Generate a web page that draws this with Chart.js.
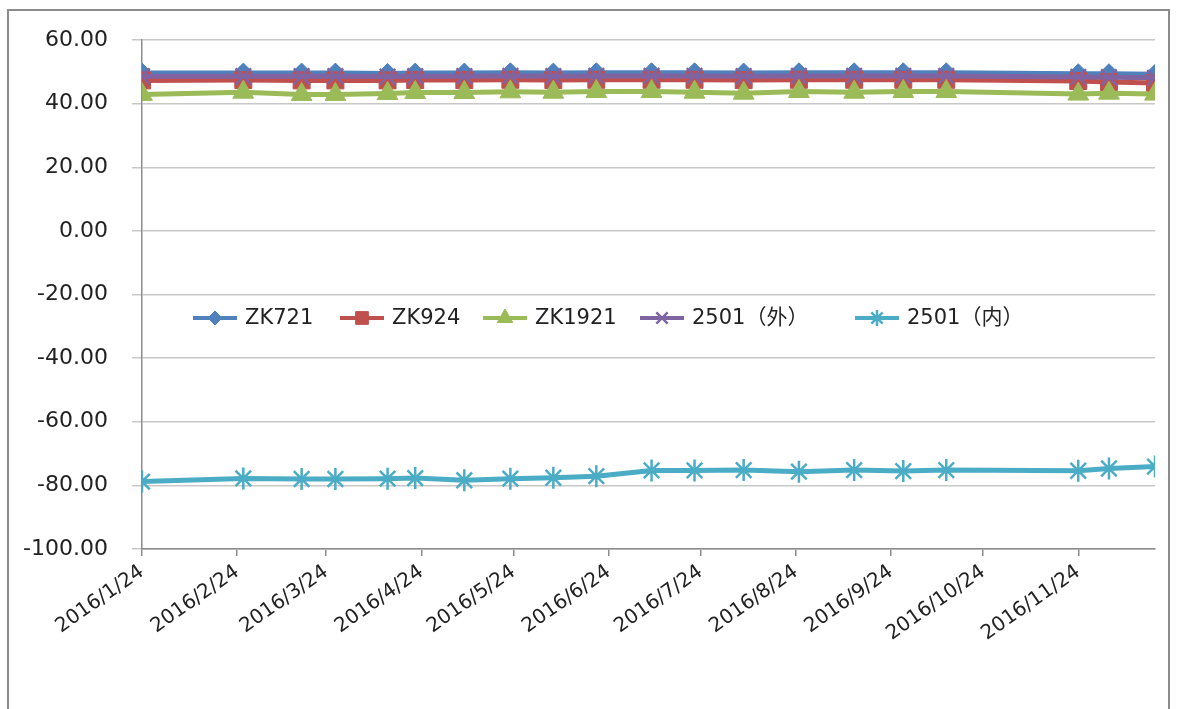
<!DOCTYPE html>
<html>
<head>
<meta charset="utf-8">
<script src="https://cdn.jsdelivr.net/npm/chart.js@4/dist/chart.umd.min.js"></script>
<style>
  html, body { margin: 0; padding: 0; background: #fff; overflow: hidden; }
  #wrap { position: relative; width: 1184px; height: 709px; }
  #frame { position: absolute; left: 7px; top: 9px; width: 1163px; height: 760px; border: 2px solid #8c8c8c; box-sizing: border-box; }
  canvas { position: absolute; left: 0; top: 0; }
</style>
</head>
<body>
<div id="wrap">
  <div id="frame"></div>
  <canvas id="c" width="1184" height="709"></canvas>
</div>
<script>
// ---- data ----
const dates = ['2016-01-24','2016-02-26','2016-03-16','2016-03-27','2016-04-13','2016-04-22','2016-05-08','2016-05-23','2016-06-06','2016-06-20',
               '2016-07-08','2016-07-22','2016-08-07','2016-08-25','2016-09-12','2016-09-28','2016-10-12','2016-11-24','2016-12-04','2016-12-19'];
const zk721   = [49.6,49.6,49.6,49.6,49.5,49.6,49.6,49.7,49.6,49.7,49.7,49.7,49.6,49.7,49.7,49.7,49.7,49.4,49.4,49.2];
const zk924   = [47.3,47.4,47.3,47.3,47.3,47.4,47.4,47.5,47.4,47.5,47.5,47.5,47.4,47.5,47.5,47.5,47.5,47.1,46.8,46.5];
const zk1921  = [42.9,43.6,42.9,42.9,43.2,43.5,43.5,43.7,43.6,43.8,43.8,43.6,43.3,43.8,43.6,43.8,43.8,43.0,43.3,43.0];
const w2501out = [48.6,48.6,48.6,48.6,48.5,48.6,48.6,48.7,48.6,48.7,48.7,48.7,48.6,48.7,48.7,48.7,48.7,48.4,48.3,48.1];
const w2501in  = [-78.8,-77.8,-78.0,-78.0,-77.9,-77.7,-78.4,-77.9,-77.6,-77.1,-75.3,-75.3,-75.2,-75.7,-75.2,-75.5,-75.2,-75.4,-74.7,-74.1];
const seriesNames = ['ZK721','ZK924','ZK1921','2501（外）','2501（内）'];
const xTickDates = ['2016-01-24','2016-02-24','2016-03-24','2016-04-24','2016-05-24','2016-06-24','2016-07-24','2016-08-24','2016-09-24','2016-10-24','2016-11-24'];
const yMin = -100, yMax = 60, yStep = 20;

// ---- helpers ----
const DAY = 86400000;
function toDay(s) { const p = s.split('-').map(Number); return Date.UTC(p[0], p[1]-1, p[2]) / DAY; }
function fmtDay(d) { const dt = new Date(d * DAY); return dt.getUTCFullYear() + '/' + (dt.getUTCMonth()+1) + '/' + dt.getUTCDate(); }
const xs = dates.map(toDay);
const pts = arr => arr.map((v, i) => ({ x: xs[i], y: v }));

const FONT = '"DejaVu Sans", "Noto Sans CJK SC", sans-serif';
const colors = ['#4F81BD', '#C0504D', '#9BBB59', '#8064A2', '#4BACC6'];
const styles = ['rectRot', 'rect', 'triangle', 'crossRot', 'star'];
const radii = [10, 12, 12, 11, 11];
const values = [zk721, zk924, zk1921, w2501out, w2501in];

const datasets = values.map((arr, i) => ({
  label: seriesNames[i],
  data: pts(arr),
  borderColor: colors[i],
  backgroundColor: colors[i],
  borderWidth: 5,
  pointStyle: styles[i],
  pointRadius: radii[i],
  pointBorderWidth: (styles[i] === 'crossRot' || styles[i] === 'star') ? 2.5 : 1,
  pointBorderColor: colors[i],
  pointBackgroundColor: colors[i],
  tension: 0,
  order: 5 - i
}));

const legendPlugin = {
  id: 'insideLegend',
  afterDraw(chart, args, opts) {
    const ctx = chart.ctx;
    const y = opts.y;
    ctx.save();
    ctx.font = opts.fontSize + 'px ' + FONT;
    ctx.textBaseline = 'middle';
    ctx.textAlign = 'left';
    chart.data.datasets.forEach((ds, i) => {
      const x0 = opts.xs[i];
      ctx.strokeStyle = ds.borderColor;
      ctx.lineWidth = 4;
      ctx.beginPath(); ctx.moveTo(x0, y); ctx.lineTo(x0 + 44, y); ctx.stroke();
      ctx.fillStyle = ds.backgroundColor;
      ctx.strokeStyle = ds.borderColor;
      ctx.lineWidth = ds.pointBorderWidth;
      if (Chart.helpers && Chart.helpers.drawPoint) {
        Chart.helpers.drawPoint(ctx, { pointStyle: ds.pointStyle, radius: Math.max(6, ds.pointRadius - 3), rotation: 0, borderWidth: ds.pointBorderWidth }, x0 + 22, y);
      }
      ctx.fillStyle = '#222';
      ctx.fillText(ds.label, x0 + 52, y + 1);
    });
    ctx.restore();
  }
};

new Chart(document.getElementById('c'), {
  type: 'line',
  data: { datasets },
  plugins: [legendPlugin],
  options: {
    responsive: false,
    animation: false,
    devicePixelRatio: 1,
    layout: { padding: { left: 0, top: 40, right: 29, bottom: 0 } },
    plugins: {
      legend: { display: false },
      tooltip: { enabled: false },
      insideLegend: { y: 318, fontSize: 21, xs: [193, 340, 483, 640, 855] }
    },
    scales: {
      x: {
        type: 'linear',
        min: toDay(dates[0]),
        max: toDay(dates[dates.length - 1]),
        afterBuildTicks: s => { s.ticks = xTickDates.map(d => ({ value: toDay(d) })); },
        afterFit: s => { s.height = 160; },
        border: { display: true, color: '#8c8c8c', width: 1.5 },
        grid: { display: true, drawOnChartArea: false, drawTicks: true, tickLength: 7, color: '#8c8c8c', lineWidth: 1.5 },
        ticks: {
          autoSkip: false, minRotation: 35, maxRotation: 35, padding: 4,
          color: '#222', font: { family: FONT, size: 20 },
          callback: v => fmtDay(v)
        }
      },
      y: {
        min: yMin, max: yMax,
        afterBuildTicks: s => { const t = []; for (let v = yMin; v <= yMax; v += yStep) t.push({ value: v }); s.ticks = t; },
        afterFit: s => { s.width = 142; },
        border: { display: true, color: '#8c8c8c', width: 1.5 },
        grid: { color: '#c8c8c8', lineWidth: 1.5, drawTicks: true, tickLength: 10 },
        ticks: { padding: 24, color: '#222', font: { family: FONT, size: 22 }, callback: v => Number(v).toFixed(2) }
      }
    }
  }
});
</script>
</body>
</html>
